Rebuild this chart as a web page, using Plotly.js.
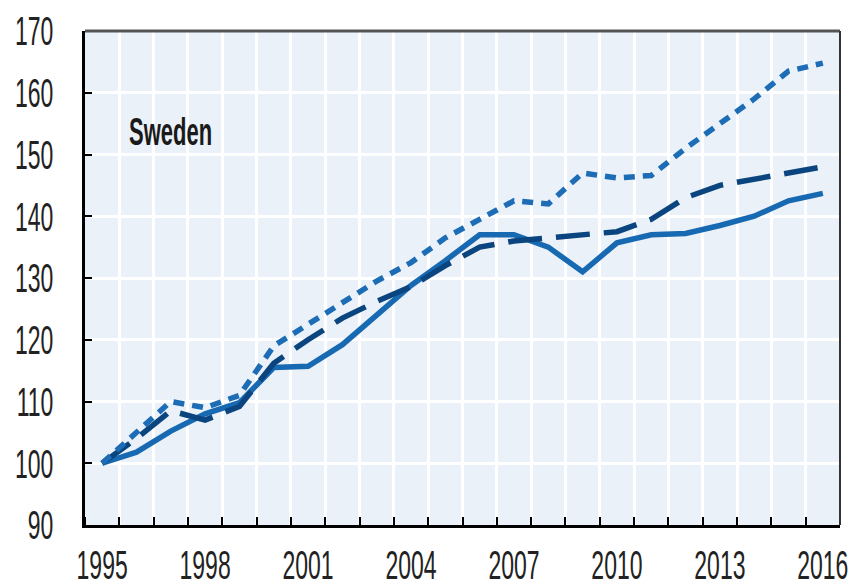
<!DOCTYPE html>
<html>
<head>
<meta charset="utf-8">
<script src="https://cdn.plot.ly/plotly-3.0.1.min.js"></script>
<style>html,body{margin:0;padding:0;background:#fff;}#chart{width:860px;height:586px;}</style>
</head>
<body>
<div id="chart"></div>
<script>
const years = [1995,1996,1997,1998,1999,2000,2001,2002,2003,2004,2005,2006,2007,2008,2009,2010,2011,2012,2013,2014,2015,2016];
const solidSeries = [100,101.8,105.2,108,109.8,115.5,115.7,119.2,124,128.8,132.8,137,137,135,131,135.7,137,137.2,138.5,140,142.5,143.7];
const dashedSeries = [100,104,108.5,107,109.2,116.2,120,123.5,126.2,128.6,132,135,136,136.5,137,137.5,139.5,143,145,146,147,148];
const dottedSeries = [100,105,110,109,111,119,122.5,126,129.5,132.5,136.5,139.5,142.5,142,147,146.2,146.6,151,155,159,163.5,164.8];
const xTickLabels = ['1995','1998','2001','2004','2007','2010','2013','2016'];
const xTickVals = [1995,1998,2001,2004,2007,2010,2013,2016];
const yTickVals = [90,100,110,120,130,140,150,160,170];
const panelLabel = 'Sweden';

const FONT = '"Liberation Sans", Arial, sans-serif';

const traces = [
  {x: years, y: solidSeries, mode: 'lines', line: {color: '#1769b1', width: 5.5}, hoverinfo: 'skip'},
  {x: years, y: dashedSeries, mode: 'lines', line: {color: '#0b457f', width: 5.5, dash: '34px,14px'}, hoverinfo: 'skip'},
  {x: years, y: dottedSeries, mode: 'lines', line: {color: '#1c6db6', width: 5.5, dash: '11px,8px'}, hoverinfo: 'skip'}
];

const layout = {
  width: 860, height: 586,
  margin: {l: 85, r: 20, t: 31, b: 61},
  paper_bgcolor: '#ffffff',
  plot_bgcolor: '#ebf1f9',
  showlegend: false,
  font: {family: FONT, color: '#222', size: 23},
  xaxis: {
    range: [1994.5, 2016.5],
    tickmode: 'array', tickvals: xTickVals, ticktext: xTickLabels,
    showgrid: false, ticks: '', zeroline: false,
    showline: true, linecolor: '#000', linewidth: 3,
    ticklabelstandoff: 17,
    tickfont: {family: FONT, size: 23, color: '#222'},
    minor: {tick0: 1994.5, dtick: 1, showgrid: true, gridcolor: '#ffffff', gridwidth: 3,
            ticks: 'inside', ticklen: 8, tickwidth: 2, tickcolor: '#000'}
  },
  yaxis: {
    range: [90, 170],
    tickmode: 'array', tickvals: yTickVals,
    showgrid: true, gridcolor: '#ffffff', gridwidth: 3,
    ticks: 'inside', ticklen: 7, tickwidth: 2, tickcolor: '#000',
    zeroline: false,
    showline: true, linecolor: '#000', linewidth: 3,
    ticklabelstandoff: 24,
    tickfont: {family: FONT, size: 23, color: '#222'}
  },
  shapes: [
    {type: 'line', xref: 'paper', yref: 'paper', x0: 0, x1: 1, y0: 1, y1: 1, line: {color: '#555', width: 3}},
    {type: 'line', xref: 'paper', yref: 'paper', x0: 1, x1: 1, y0: 0, y1: 1, line: {color: '#333', width: 2}}
  ],
  annotations: [
    {text: '<b>' + panelLabel + '</b>', xref: 'paper', yref: 'paper', x: 0.056, y: 0.797,
     xanchor: 'left', yanchor: 'middle', showarrow: false,
     font: {family: FONT, size: 22, color: '#1a1a1a'}}
  ]
};

function stretchText(sel, s) {
  document.querySelectorAll(sel).forEach(function (el) {
    const bb = el.getBBox();
    const cx = bb.x + bb.width / 2, cy = bb.y + bb.height / 2;
    const t = el.getAttribute('transform') || '';
    el.setAttribute('transform', t + ' translate(' + cx + ',' + cy + ') scale(1,' + s + ') translate(' + (-cx) + ',' + (-cy) + ')');
  });
}

Plotly.newPlot('chart', traces, layout, {staticPlot: true, displayModeBar: false}).then(function () {
  stretchText('#chart .xtick text', 1.75);
  stretchText('#chart .ytick text', 1.8);
  stretchText('#chart .annotation-text', 1.75);
});
</script>
</body>
</html>
